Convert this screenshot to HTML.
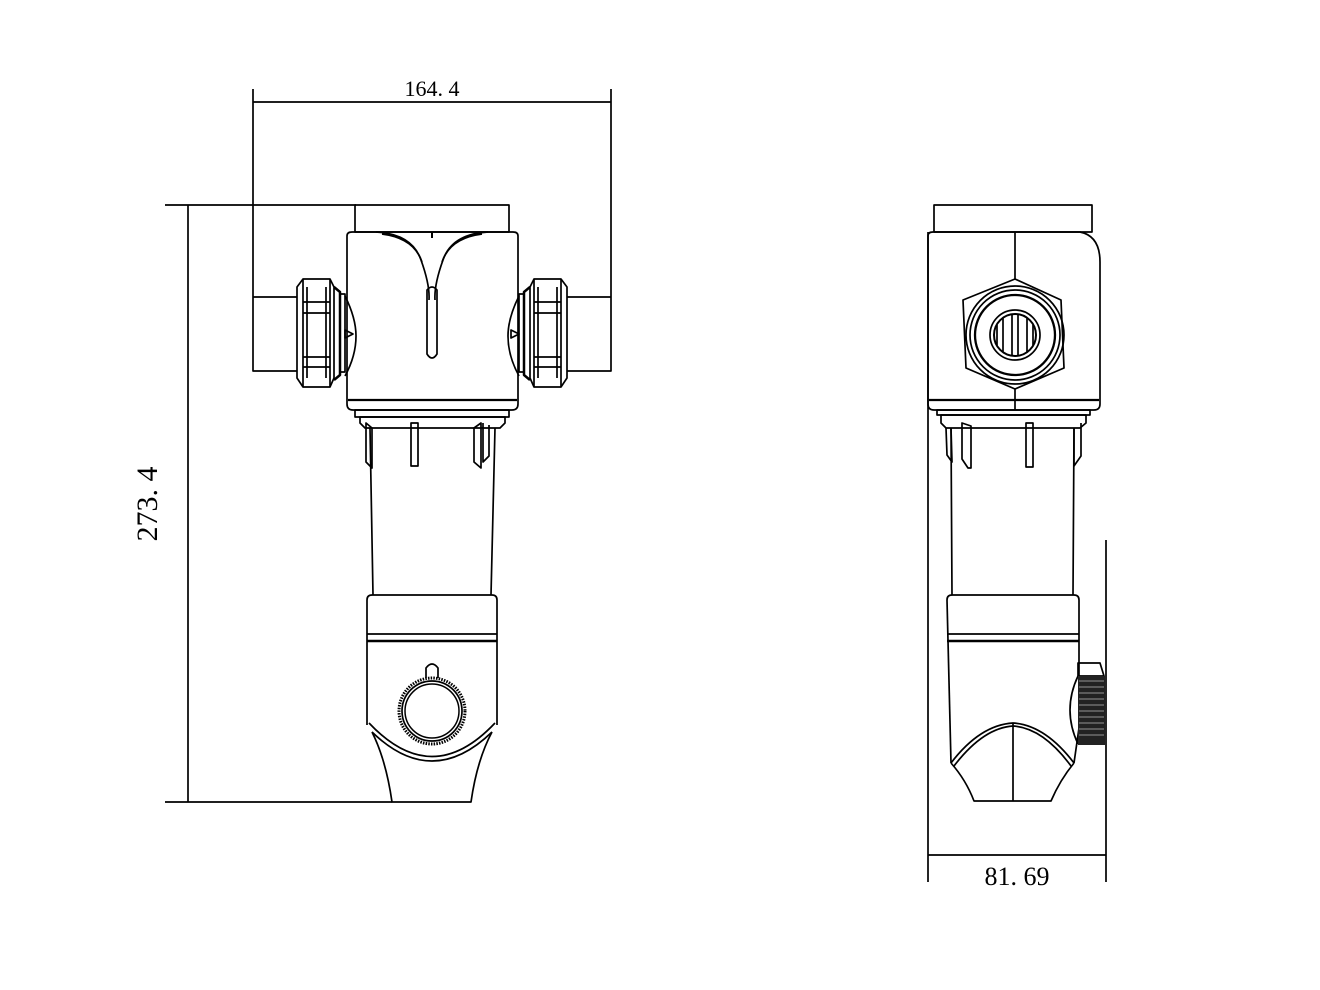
<!DOCTYPE html>
<html><head><meta charset="utf-8"><style>
html,body{margin:0;padding:0;background:#fff;width:1320px;height:990px;overflow:hidden}
svg{display:block}
text{font-family:"Liberation Serif",serif;fill:#000}
</style></head><body>
<svg width="1320" height="990" viewBox="0 0 1320 990" xmlns="http://www.w3.org/2000/svg">
<g fill="none" stroke="#000" stroke-width="1.7" stroke-linejoin="round">
<!-- ========== FRONT VIEW dimensions ========== -->
<line x1="253" y1="89" x2="253" y2="297"/>
<line x1="611" y1="89" x2="611" y2="297"/>
<line x1="253" y1="102" x2="611" y2="102"/>
<line x1="165" y1="205" x2="356" y2="205"/>
<line x1="165" y1="802" x2="392" y2="802"/>
<line x1="188" y1="205" x2="188" y2="802"/>

<!-- pipes -->
<path d="M253 297 H297 M253 297 V371 H297"/>
<path d="M611 297 H567 M611 297 V371 H567"/>

<!-- top cap -->
<rect x="355" y="205" width="154" height="27"/>
<!-- body -->
<path d="M347 236 Q347 232 352 232 H513 Q518 232 518 236 V404 Q518 410 512 410 H353 Q347 410 347 404 Z"/>
<line x1="348" y1="400" x2="517" y2="400" stroke-width="2.3"/>
<path d="M376 232 Q412 234 421 260 Q430 285 429 300 M488 232 Q452 234 443 260 Q434 285 435 300"/>
<path d="M382 234 Q414 238 422 262 M482 234 Q450 238 442 262"/>
<path d="M427 290 Q432 284 437 290 V354 Q432 362 427 354 Z"/>
<line x1="432" y1="232" x2="432" y2="238" stroke-width="2"/>
<!-- under body -->
<rect x="355" y="410" width="154" height="7"/>
<path d="M360 417 H505 V423 L500 428 H365 L360 423 Z"/>
<!-- tabs front -->
<path d="M366 423 V462 L372 468 V428 Z"/>
<path d="M411 423 V466 H418 V423 Z"/>
<path d="M481 423 V468 L474 462 V428 Z" />
<path d="M483 423 V462 L489 456 V425"/>
<!-- tube -->
<path d="M370 428 L373 595 M495 428 L491 595"/>
<!-- lower cap -->
<path d="M367 600 Q367 595 372 595 H492 Q497 595 497 600 V725"/>
<path d="M367 600 V725"/>
<line x1="367" y1="634" x2="497" y2="634"/>
<line x1="367" y1="641" x2="497" y2="641" stroke-width="2.4"/>
<path d="M369 723 Q432 790 495 723"/>
<path d="M372 732 Q432 790 492 732"/>
<path d="M372 732 Q386 760 392 802 H471 Q477 760 492 732"/>
<!-- knob -->
<circle cx="432" cy="711" r="33" stroke-width="3" stroke-dasharray="1.5 1.2"/>
<circle cx="432" cy="711" r="30" stroke-width="1.7"/>
<circle cx="432" cy="711" r="27" stroke-width="1.5"/>
<path d="M426 678 V668 Q432 660 438 668 V678"/>
<!-- left nut -->
<path d="M297 287 L303 279 H330 L334 287 V378 L330 387 H303 L297 378 Z"/>
<path d="M303 279 V387 M330 279 V387"/>
<path d="M307 287 V378 M326 287 V378"/>
<path d="M303 302 H330 M303 313 H330 M303 357 H330 M303 367 H330"/>
<path d="M334 287 L340 292 V375 L334 380" stroke-width="2.5"/>
<path d="M340 294 H345 V372 H340"/>
<path d="M345 296 Q356 318 356 336 Q356 356 345 376"/>
<path d="M345 330 L353 334 L345 338 Z"/>
<!-- right nut -->
<path d="M567 287 L561 279 H534 L530 287 V378 L534 387 H561 L567 378 Z"/>
<path d="M561 279 V387 M534 279 V387"/>
<path d="M557 287 V378 M538 287 V378"/>
<path d="M534 302 H561 M534 313 H561 M534 357 H561 M534 367 H561"/>
<path d="M530 287 L524 292 V375 L530 380" stroke-width="2.5"/>
<path d="M524 294 H519 V372 H524"/>
<path d="M519 296 Q508 318 508 336 Q508 356 519 376"/>
<path d="M511 330 L519 334 L511 338 Z"/>

<!-- ========== SIDE VIEW ========== -->
<line x1="928" y1="232" x2="928" y2="882"/>
<line x1="1106" y1="540" x2="1106" y2="882"/>
<line x1="928" y1="855" x2="1106" y2="855"/>
<rect x="934" y="205" width="158" height="27"/>
<path d="M928 236 Q928 232 933 232 H1080 Q1100 236 1100 262 V404 Q1100 410 1094 410 H934 Q928 410 928 404 Z"/>
<line x1="929" y1="400" x2="1099" y2="400" stroke-width="2.3"/>
<line x1="1015" y1="232" x2="1015" y2="410"/>
<!-- hex nut -->
<path d="M1015 279 L1061 300 L1064 368 L1015 389 L966 368 L963 300 Z" fill="#fff"/>
<circle cx="1015" cy="335" r="49"/>
<circle cx="1015" cy="335" r="45"/>
<circle cx="1015" cy="335" r="40" stroke-width="2.3"/>
<circle cx="1015" cy="335" r="25"/>
<circle cx="1015" cy="335" r="21" stroke-width="2"/>
<path d="M997 325 V345 M1003 318 V352 M1012 315 V355 M1018 315 V355 M1027 318 V352 M1033 325 V345"/>
<!-- under side -->
<rect x="937" y="410" width="153" height="5"/>
<path d="M941 415 H1086 V423 L1080 428 H946 L941 423 Z"/>
<path d="M946 428 L947 455 L952 462 L951 428"/>
<path d="M962 423 V459 L968 468 H971 V426 Z"/>
<path d="M1026 423 V467 H1033 V423 Z"/>
<path d="M1081 423 V456 L1074 466 V428"/>
<path d="M951 428 L952 595 M1074 428 L1073 595"/>
<path d="M947 600 Q947 595 952 595 H1074 Q1079 595 1079 600 V728"/>
<path d="M947 600 L951 763"/>
<line x1="947" y1="634" x2="1079" y2="634"/>
<line x1="947" y1="641" x2="1079" y2="641" stroke-width="2.4"/>
<path d="M951 763 Q980 725 1013 723 Q1045 725 1074 763"/>
<path d="M954 766 Q983 728 1013 726 Q1043 728 1071 766"/>
<line x1="1013" y1="723" x2="1013" y2="801"/>
<path d="M951 763 Q966 780 974 801 H1051 Q1060 780 1074 763"/>
<line x1="1079" y1="728" x2="1074" y2="763"/>
<!-- side knob -->
<path d="M1078 663 H1100 L1104 676 H1078 Z"/>
<path d="M1078 676 Q1062 710 1078 744"/>
</g>
<rect x="1078" y="676" width="27" height="69" fill="#222"/>
<g stroke="#bbb" stroke-width="0.8">
<line x1="1079" y1="681" x2="1104" y2="681"/><line x1="1079" y1="687" x2="1104" y2="687"/>
<line x1="1079" y1="693" x2="1104" y2="693"/><line x1="1079" y1="699" x2="1104" y2="699"/>
<line x1="1079" y1="705" x2="1104" y2="705"/><line x1="1079" y1="711" x2="1104" y2="711"/>
<line x1="1079" y1="717" x2="1104" y2="717"/><line x1="1079" y1="723" x2="1104" y2="723"/>
<line x1="1079" y1="729" x2="1104" y2="729"/><line x1="1079" y1="735" x2="1104" y2="735"/>
</g>

<text x="432" y="96" font-size="22" text-anchor="middle">164. 4</text>
<text x="1017" y="885" font-size="26" text-anchor="middle">81. 69</text>
<text transform="translate(157,504) rotate(-90)" font-size="30" text-anchor="middle">273. 4</text>
</svg>
</body></html>
